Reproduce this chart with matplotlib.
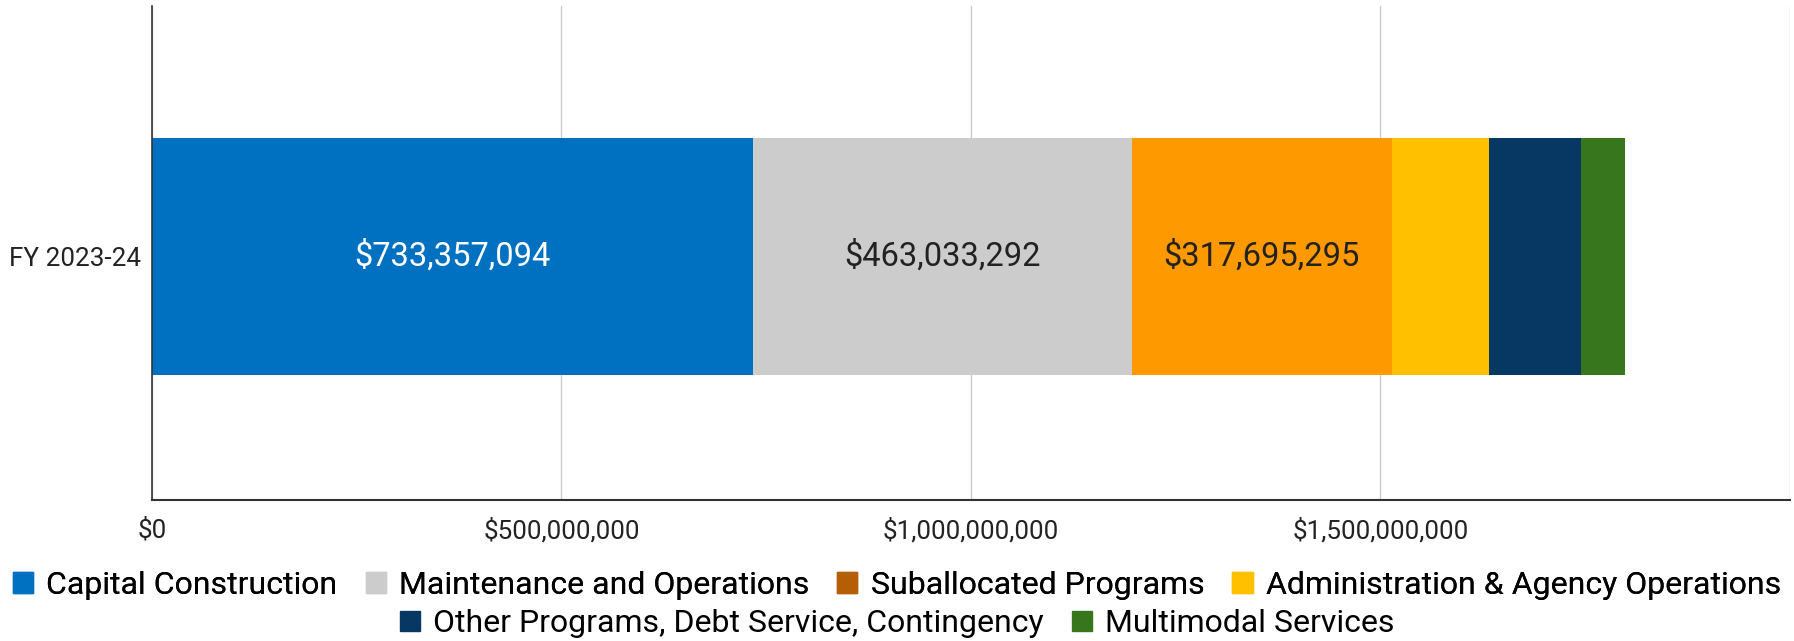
import matplotlib
matplotlib.use('Agg')
import matplotlib.pyplot as plt
from matplotlib.patches import Patch
from matplotlib.ticker import FuncFormatter

plt.rcParams['font.family'] = ['Roboto', 'DejaVu Sans']

# data
category = "FY 2023-24"
series = ["Capital Construction", "Maintenance and Operations", "Suballocated Programs",
          "Administration & Agency Operations", "Other Programs, Debt Service, Contingency",
          "Multimodal Services"]
values = [733357094, 463033292, 317695295, 119000000, 112000000, 54000000]
bar_colors = ["#0070c0", "#cccccc", "#ff9900", "#ffc000", "#073763", "#38761d"]
legend_colors = ["#0070c0", "#cccccc", "#b45f06", "#ffc000", "#073763", "#38761d"]
label_colors = ["white", "#222222", "#222222", "#222222", "white", "white"]
xticks = [0, 500_000_000, 1_000_000_000, 1_500_000_000]

fig = plt.figure(figsize=(17.94, 6.41), dpi=100)
ax = fig.add_axes([0.0847, 0.22, 0.913, 0.771])

left = 0
for v, c, lc in zip(values, bar_colors, label_colors):
    ax.barh(-0.007, v, left=left, height=0.48, color=c, zorder=3)
    if v > 200_000_000:
        ax.text(left + v / 2, -0.007, f"${v:,.0f}", ha='center', va='center',
                fontsize=23.5, color=lc, zorder=4)
    left += v

ax.set_xlim(0, 2_000_000_000)
ax.set_ylim(-0.5, 0.5)
ax.set_xticks(xticks)
ax.xaxis.set_major_formatter(FuncFormatter(lambda x, _: f"${x:,.0f}"))
ax.set_yticks([-0.007])
ax.set_yticklabels([category])
ax.tick_params(axis='both', length=0, labelsize=18.7, colors='#222222')
ax.tick_params(axis='x', pad=13)
ax.tick_params(axis='y', pad=8)
ax.grid(axis='x', color='#cccccc', lw=1, zorder=0)
ax.axvline(2_000_000_000, color='#cccccc', lw=1, zorder=0)

for s in ['top', 'right']:
    ax.spines[s].set_visible(False)
ax.spines['bottom'].set_color('#333333')
ax.spines['left'].set_color('#333333')
ax.spines['bottom'].set_linewidth(1.5)
ax.spines['left'].set_linewidth(1.2)
ax.spines['bottom'].set_zorder(5)
ax.spines['left'].set_zorder(5)

handles = [Patch(color=c, label=s) for s, c in zip(series, legend_colors)]
leg_kw = dict(loc='center', frameon=False, fontsize=23, handlelength=0.63, handleheight=0.63,
              handletextpad=0.41, columnspacing=0.88, borderaxespad=0, borderpad=0)
leg1 = fig.legend(handles=handles[:4], bbox_to_anchor=(0.5, 0.087), ncol=4, **leg_kw)
fig.legend(handles=handles[4:], bbox_to_anchor=(0.5, 0.027), ncol=2, **leg_kw)
fig.add_artist(leg1)

fig.savefig("out.png", dpi=100)
